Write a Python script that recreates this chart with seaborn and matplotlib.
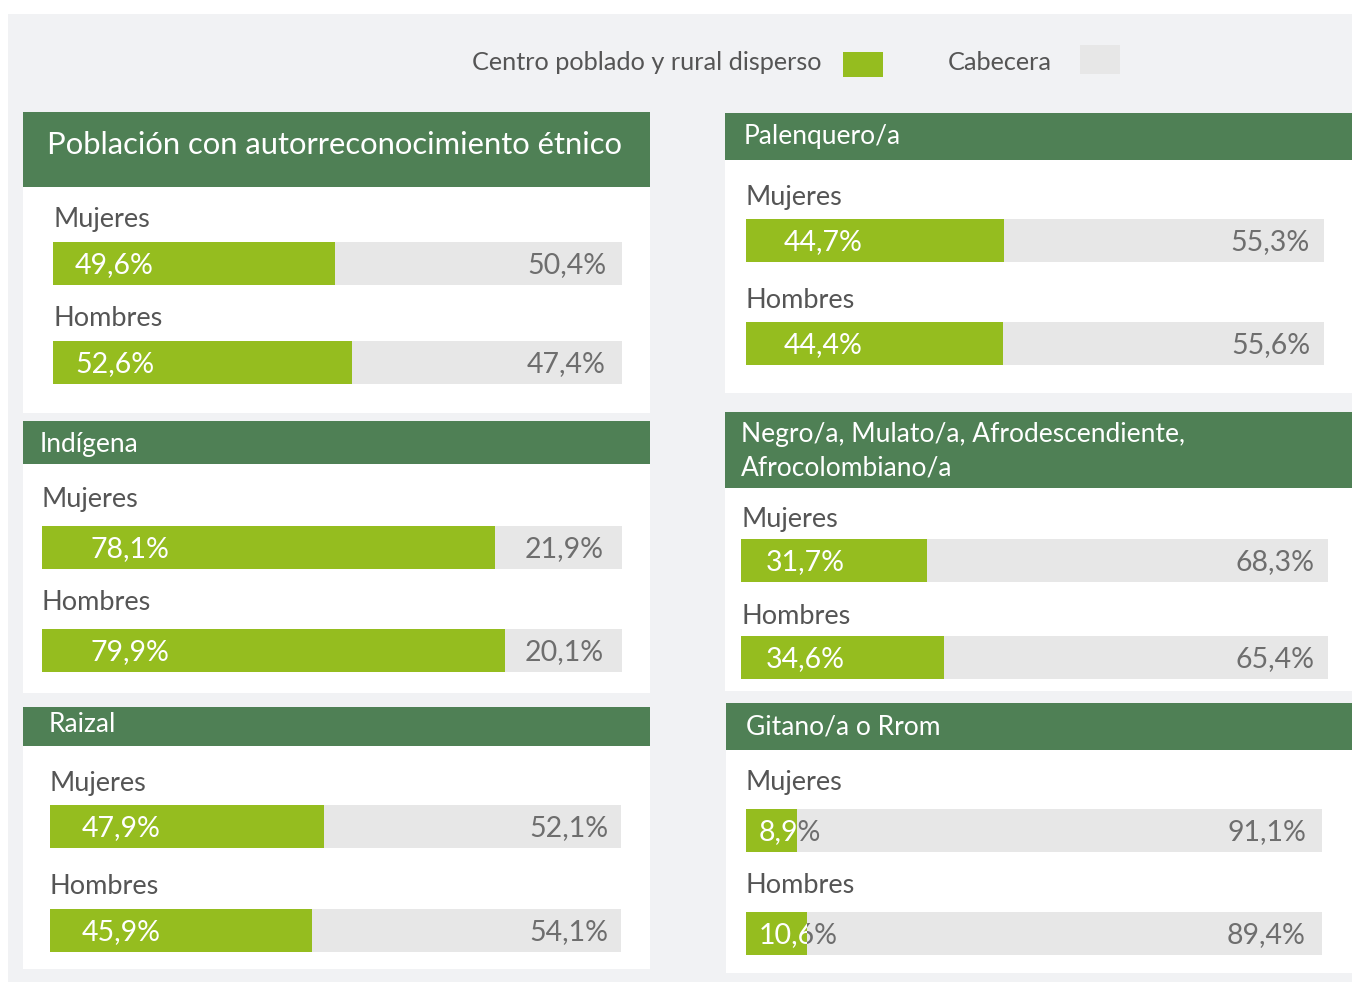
import matplotlib
matplotlib.use('Agg')
import matplotlib.pyplot as plt
from matplotlib.patches import Rectangle
import seaborn as sns

sns.set_theme(style='white')
plt.rcParams['font.family'] = ['Lato', 'DejaVu Sans']

# data
titles = ['Población con autorreconocimiento étnico', 'Indígena', 'Raizal',
          'Palenquero/a', 'Negro/a, Mulato/a, Afrodescendiente,\nAfrocolombiano/a',
          'Gitano/a o Rrom']
sexes = ['Mujeres', 'Hombres']
rural_mujeres = [49.6, 78.1, 47.9, 44.7, 31.7, 8.9]
rural_hombres = [52.6, 79.9, 45.9, 44.4, 34.6, 10.6]
cabecera_mujeres = [50.4, 21.9, 52.1, 55.3, 68.3, 91.1]
cabecera_hombres = [47.4, 20.1, 54.1, 55.6, 65.4, 89.4]
legend_labels = ['Centro poblado y rural disperso', 'Cabecera']

GREEN = '#95bd1f'
GRAY = '#e7e7e7'
HEADER = '#4f8055'
BG = '#f1f2f4'
LABEL = '#555555'
VALUE = '#6e6e6e'

W, H = 1352, 982
fig = plt.figure(figsize=(W / 100, H / 100), dpi=100, facecolor='white')
base = fig.add_axes([0, 0, 1, 1], zorder=0)
base.set_xlim(0, W)
base.set_ylim(H, 0)
base.axis('off')
base.add_patch(Rectangle((8, 14), W - 8, H - 14, color=BG, lw=0))

# layout: panel box, header bottom, title x / baseline / size, bar x range, bar centers,
# label offset, text offsets
panels = [
    dict(box=(23, 112, 650, 413), hb=187, tx=47, ty=154, fs=22.3, bx=(53, 622), bc=(263.5, 362.5), lo=37, go=22, ro=16),
    dict(box=(23, 421, 650, 693), hb=464, tx=40, ty=452, fs=19, bx=(42, 622), bc=(547.5, 650.5), lo=40.5, go=48, ro=18),
    dict(box=(23, 707, 650, 969), hb=746, tx=49, ty=732, fs=19, bx=(50, 621), bc=(826, 930), lo=35.5, go=32, ro=13),
    dict(box=(725, 113, 1352, 393), hb=160, tx=744, ty=144, fs=19, bx=(746, 1324), bc=(240.5, 343.5), lo=35.5, go=38, ro=14),
    dict(box=(725, 412, 1352, 691), hb=488, tx=741, ty=442, fs=19, bx=(741, 1328), bc=(560.5, 657.5), lo=34, go=25, ro=14),
    dict(box=(726, 703, 1352, 973), hb=750, tx=746, ty=735, fs=19, bx=(746, 1322), bc=(830.5, 933.5), lo=40.5, go=13, ro=16),
]

for i, p in enumerate(panels):
    x0, y0, x1, y1 = p['box']
    base.add_patch(Rectangle((x0, y0), x1 - x0, y1 - y0, color='white', lw=0))
    base.add_patch(Rectangle((x0, y0), x1 - x0, p['hb'] - y0, color=HEADER, lw=0))
    for k, line in enumerate(titles[i].split('\n')):
        base.text(p['tx'], p['ty'] + 33 * k, line, color='white', fontsize=p['fs'],
                  va='baseline', ha='left')

    c1, c2 = p['bc']
    s = c2 - c1
    c = (c1 + c2) / 2
    bw = 43 / s
    bx0, bx1 = p['bx']
    ax = fig.add_axes([bx0 / W, 1 - (c + s) / H, (bx1 - bx0) / W, 2 * s / H], zorder=1)
    ax.patch.set_alpha(0)
    rural = [rural_mujeres[i], rural_hombres[i]]
    urban = [cabecera_mujeres[i], cabecera_hombres[i]]
    total = [r + u for r, u in zip(rural, urban)]
    sns.barplot(x=total, y=sexes, orient='h', color=GRAY, saturation=1, width=bw,
                errorbar=None, linewidth=0, ax=ax)
    sns.barplot(x=rural, y=sexes, orient='h', color=GREEN, saturation=1, width=bw,
                errorbar=None, linewidth=0, ax=ax)
    ax.set_xlim(0, 100)
    ax.set_ylim(1.5, -0.5)
    ax.axis('off')
    for j, sex in enumerate(sexes):
        green_bar = ax.patches[2 + j]
        rest = Rectangle((rural[j], j - bw / 2), total[j] - rural[j], bw, transform=ax.transData)
        ax.annotate(sex, xy=(0, j), xytext=(0, p['lo']), textcoords='offset pixels',
                    color=LABEL, fontsize=19.5, va='baseline', ha='left')
        txt = f'{rural[j]:.1f}%'.replace('.', ',')
        # white on the green part, grey where a short bar leaves the label on grey
        for col, clip in (('white', green_bar), (VALUE, rest)):
            t = ax.annotate(txt, xy=(0, j), xytext=(p['go'], -10),
                            textcoords='offset pixels', color=col, fontsize=20.5,
                            va='baseline', ha='left')
            t.set_clip_path(clip)
        ax.annotate(f'{urban[j]:.1f}%'.replace('.', ','), xy=(100, j), xytext=(-p['ro'], -10),
                    textcoords='offset pixels', color=VALUE, fontsize=20.5,
                    va='baseline', ha='right')

# legend
base.text(821, 70, legend_labels[0], color=LABEL, fontsize=18.2, ha='right', va='baseline')
base.add_patch(Rectangle((843, 52), 40, 25, color=GREEN, lw=0))
base.text(948, 70, legend_labels[1], color=LABEL, fontsize=18.2, ha='left', va='baseline')
base.add_patch(Rectangle((1080, 45), 40, 29, color=GRAY, lw=0))

fig.savefig('out.png', dpi=100, facecolor='white')
